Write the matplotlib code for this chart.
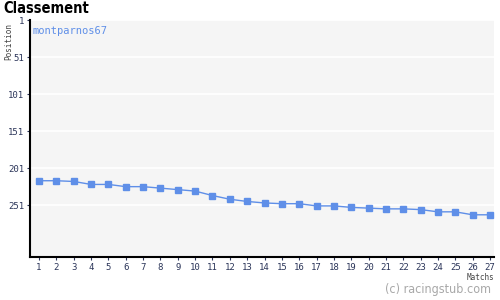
import numpy as np
import matplotlib
matplotlib.use('Agg')
import matplotlib.pyplot as plt

# data
matchs = list(range(1, 28))
positions = [218, 218, 219, 223, 223, 226, 226, 228, 230, 232, 238, 243, 246,
             248, 249, 249, 252, 252, 254, 255, 256, 256, 257, 260, 260, 264, 264]
y_ticks = [1, 51, 101, 151, 201, 251]
team = 'montparnos67'

blue = '#5f8fe8'
navy = '#2b3559'

fig = plt.figure(figsize=(5, 3), dpi=100)
ax = fig.add_axes([0.06, 0.1433, 0.928, 0.79])
ax.set_facecolor('#f5f5f5')

for t in y_ticks:
    ax.axhline(t, color='white', lw=1.2, zorder=1)

ax.plot(matchs, positions, color=blue, lw=1, marker='s', ms=3.8,
        mec=blue, mfc=blue, zorder=3)

ax.set_xlim(0.48, 27.23)
ax.set_ylim(321, 1)
ax.set_xticks(matchs)
ax.set_yticks(y_ticks)

for side in ['top', 'right']:
    ax.spines[side].set_visible(False)
for side in ['left', 'bottom']:
    ax.spines[side].set_linewidth(1.5)
    ax.spines[side].set_color('black')

ax.tick_params(axis='both', length=2, width=0.8, color=navy, labelcolor=navy,
               labelsize=6.5, pad=2)
for lab in ax.get_xticklabels() + ax.get_yticklabels():
    lab.set_family('DejaVu Sans Mono')

fig.text(0.006, 0.997, 'Classement', ha='left', va='top', fontsize=10.5,
         fontweight='bold', family='DejaVu Sans', fontstretch='condensed')
fig.text(0.008, 0.80, 'Position', rotation=90, ha='left', va='bottom',
         fontsize=5.5, color='#444444', family='DejaVu Sans Mono')
ax.text(0.006, 0.975, team, transform=ax.transAxes, ha='left', va='top',
        fontsize=7.5, color=blue, family='DejaVu Sans Mono')
fig.text(0.988, 0.075, 'Matchs', ha='right', va='center', fontsize=5.5,
         color='#444444', family='DejaVu Sans Mono')
fig.text(0.982, 0.035, '(c) racingstub.com', ha='right', va='center', fontsize=9,
         color='#a8a8a8', family='DejaVu Sans', fontstretch='condensed')

fig.savefig('out.png', dpi=100, facecolor='white')
